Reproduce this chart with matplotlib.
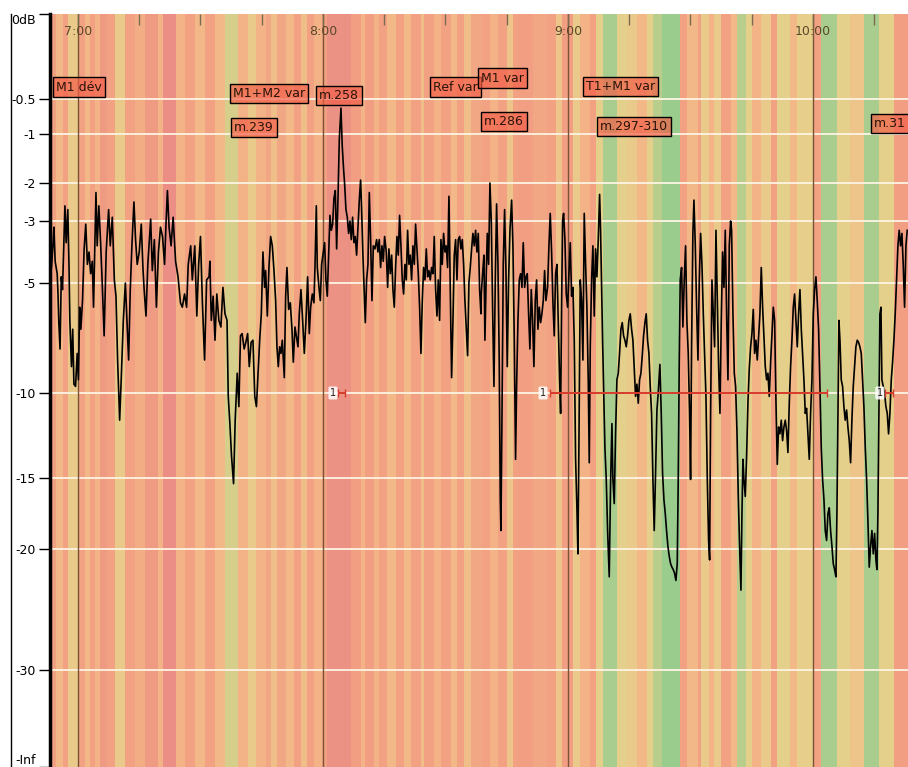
import numpy as np
import matplotlib
matplotlib.use('Agg')
import matplotlib.pyplot as plt
from matplotlib.colors import LinearSegmentedColormap
from matplotlib.transforms import blended_transform_factory
from matplotlib.lines import Line2D

# ---- level curve, minutes since midnight / dB ----
t_a = [412.9, 413.5, 413.9, 414.1, 414.4, 414.9, 415.1, 415.3, 415.6, 415.9,
       416.2, 416.5, 416.8, 417.1, 417.5, 417.8, 418.0, 418.4, 418.7, 419.0,
       419.4, 419.8, 420.1, 420.4, 420.7, 421.1, 421.5, 421.9, 422.3, 422.7,
       423.1, 423.5, 423.8, 424.2, 424.4, 424.7, 425.1, 425.5, 425.9, 426.4,
       426.9, 427.5, 427.9, 428.4, 428.9, 429.3, 429.7, 430.2, 430.6, 431.1,
       431.6, 432.0, 432.4, 432.8, 433.2, 433.7, 434.1, 434.5, 435.0, 435.5,
       435.9, 436.2, 436.65, 437.1, 437.8, 438.2, 438.7, 439.2, 439.7, 440.2,
       440.7, 441.2, 441.55, 441.9, 442.3, 442.8, 443.3, 443.9, 444.5, 445.1,
       445.55, 446.1, 446.6, 447.0, 447.6, 448.0, 448.6, 449.1, 449.55, 450.0,
       450.45, 450.8, 451.0, 451.5, 452.1, 452.3, 452.65, 453.1, 453.55, 454.0,
       454.5, 455.0, 455.5, 456.0, 456.5, 456.8, 457.2, 457.6, 458.1, 458.5,
       459.0, 459.4, 459.8, 460.2, 460.7, 461.1, 461.55, 461.95, 462.4, 462.85,
       463.3, 463.7, 464.1, 464.5, 464.9, 465.3, 465.7]
db_a = [-5.0, -4.5, -3.7, -3.2, -4.3, -4.7, -5.5, -6.8, -8.0, -4.8,
        -5.3, -3.8, -2.6, -3.7, -2.7, -4.5, -6.7, -8.8, -7.1, -9.6,
        -9.7, -8.2, -9.4, -6.1, -7.1, -5.8, -3.9, -3.1, -4.4, -4.0,
        -4.7, -4.3, -6.1, -3.2, -2.25, -3.8, -2.6, -3.6, -4.9, -7.4,
        -4.0, -2.7, -3.8, -2.9, -4.9, -5.6, -8.5, -11.6, -9.3, -6.7,
        -5.0, -6.7, -8.5, -5.3, -3.8, -2.5, -3.6, -4.4, -4.0, -3.1,
        -4.5, -5.3, -6.5, -4.4, -2.95, -4.6, -3.6, -6.1, -4.0, -3.2,
        -3.5, -4.4, -3.1, -2.2, -3.2, -3.8, -2.9, -4.3, -4.8, -5.9,
        -6.1, -5.5, -6.1, -4.4, -3.8, -4.9, -3.8, -6.5, -4.4, -3.5,
        -5.8, -7.6, -8.5, -4.9, -4.8, -4.3, -6.7, -5.6, -7.6, -5.5,
        -6.7, -7.0, -5.2, -6.4, -6.7, -10.2, -11.8, -13.7, -15.4, -11.6,
        -9.1, -10.8, -7.4, -7.3, -8.0, -7.7, -7.3, -8.8, -7.7, -7.6,
        -10.2, -10.8, -9.1, -7.6, -6.4, -4.0, -5.2]

t_b = [465.96, 466.37, 466.77, 467.18, 467.59, 468.0, 468.41, 468.73, 469.06, 469.39,
       469.71, 470.04, 470.53, 470.86, 471.18, 471.59, 472.0, 472.41, 472.73, 473.14,
       473.47, 473.88, 474.2, 474.61, 475.02, 475.43, 475.84, 476.24, 476.65, 476.98,
       477.39, 477.79, 478.04, 478.37, 478.61, 479.02, 479.35, 479.67, 480.08, 480.41,
       480.73, 481.06, 481.39, 481.71, 482.04, 482.37, 482.69, 483.02, 483.35, 483.67,
       484.0, 484.41, 484.73, 485.06, 485.31, 485.63, 485.96, 486.28, 486.61, 486.94,
       487.26, 487.59, 487.92, 488.24, 488.57, 488.9, 489.22, 489.47, 489.79, 490.12,
       490.37, 490.69, 491.02, 491.35, 491.67, 492.0, 492.33, 492.73, 493.14, 493.47,
       493.79, 494.12, 494.45, 494.77, 495.1, 495.51, 495.84, 496.16, 496.49, 496.82,
       497.14, 497.47, 497.79, 498.12, 498.45, 498.77, 499.1, 499.43, 499.75, 500.08,
       500.41, 500.73, 501.06, 501.39, 501.71, 502.04, 502.37, 502.69, 503.02, 503.35,
       503.67, 504.0, 504.33, 504.65, 504.98, 505.31, 505.63, 505.96, 506.28, 506.61,
       506.94, 507.26, 507.59, 507.92, 508.24, 508.57, 508.9, 509.22, 509.55, 509.88,
       510.2, 510.53, 510.86, 511.18, 511.51, 511.84, 512.16, 512.49, 512.82, 513.14,
       513.47, 513.79, 514.12, 514.45, 514.77, 515.1, 515.43, 515.75, 516.08, 516.41,
       516.73, 517.06, 517.39, 517.71, 518.04, 518.37, 518.69]
db_b = [-4.6, -6.5, -4.5, -3.5, -3.8, -4.6, -5.8, -7.9, -8.8, -7.9,
        -8.2, -7.6, -9.3, -5.6, -4.5, -6.2, -5.9, -7.1, -8.6, -7.0,
        -7.4, -7.9, -6.4, -5.3, -6.7, -8.2, -6.7, -4.8, -7.3, -6.1,
        -5.5, -5.9, -4.5, -2.6, -4.5, -5.2, -5.8, -4.4, -4.0, -3.7,
        -4.9, -5.6, -4.1, -2.85, -3.3, -3.1, -2.4, -2.2, -3.9, -2.45,
        -1.12, -0.63, -1.26, -1.73, -2.03, -2.7, -2.9, -3.4, -3.0, -3.6,
        -2.9, -3.7, -3.5, -4.1, -3.2, -2.45, -1.94, -2.7, -4.1, -5.5,
        -6.8, -4.9, -4.4, -2.25, -3.6, -5.8, -3.8, -3.9, -3.6, -4.0,
        -3.6, -4.5, -3.8, -4.3, -3.5, -4.0, -5.2, -3.9, -4.7, -4.1,
        -5.3, -6.1, -4.5, -3.5, -4.1, -2.85, -3.8, -4.9, -5.5, -4.4,
        -4.9, -3.3, -4.4, -4.1, -4.9, -3.8, -4.4, -3.1, -3.9, -4.7,
        -6.1, -8.2, -5.8, -4.5, -4.9, -3.9, -4.8, -4.6, -4.9, -4.5,
        -4.7, -3.5, -5.3, -6.5, -4.9, -6.7, -3.6, -4.4, -3.4, -4.0,
        -3.8, -4.5, -2.35, -5.3, -9.3, -6.7, -4.1, -3.6, -4.9, -3.6,
        -3.5, -3.9, -3.6, -4.4, -5.8, -7.1, -8.3, -5.0, -4.5, -3.9,
        -3.4, -3.8, -3.3, -4.0, -3.4, -5.3, -6.4]

t_c = [518.78, 519.1, 519.43, 519.67, 520.0, 520.25, 520.57, 520.9, 521.23, 521.55,
       521.88, 522.21, 522.53, 522.86, 523.18, 523.43, 523.59, 523.84, 524.16, 524.49,
       524.82, 525.14, 525.47, 525.8, 526.21, 526.53, 526.86, 527.18, 527.43, 527.76,
       528.08, 528.41, 528.74, 529.06, 529.39, 529.72, 530.04, 530.37, 530.69, 531.02,
       531.35, 531.67, 532.0, 532.33, 532.65, 532.98, 533.31, 533.63, 533.96, 534.29,
       534.61, 535.02, 535.35, 535.67, 536.0, 536.33, 536.65, 536.98, 537.31, 537.63,
       537.96, 538.21, 538.45, 538.69, 538.94, 539.27, 539.59, 539.92, 540.25, 540.57,
       540.9, 541.23, 541.55, 541.88, 542.21, 542.45, 542.69, 543.02, 543.35, 543.67,
       544.0, 544.33, 544.65, 544.98, 545.23, 545.47, 545.8, 546.12, 546.45, 546.78,
       547.1, 547.43, 547.76, 548.0, 548.25, 548.49, 548.74, 549.06, 549.39, 549.72,
       550.12, 550.45, 550.78, 551.02, 551.35, 551.67, 552.0, 552.33, 552.65, 552.98,
       553.31, 553.63, 553.96, 554.29, 554.61, 554.94, 555.27, 555.59, 555.92, 556.25,
       556.57, 556.9, 557.23, 557.55, 557.88, 558.21, 558.53, 558.86, 559.18, 559.51,
       559.84, 560.16, 560.49, 560.82, 561.14, 561.47, 561.8, 562.12, 562.53, 562.86,
       563.18, 563.51, 563.84, 564.16, 564.49, 564.82, 565.14, 565.47, 565.8, 566.12,
       566.45, 566.78, 567.02, 567.27, 567.51, 567.84, 568.16, 568.49, 568.82, 569.14,
       569.47, 569.8, 570.04, 570.29, 570.61]
db_c = [-5.5, -4.7, -4.1, -7.6, -4.7, -3.4, -4.4, -2.0, -3.0, -6.1,
        -9.7, -4.9, -2.55, -4.4, -8.6, -16.5, -18.7, -11.6, -4.4, -2.7,
        -4.6, -8.8, -4.9, -3.3, -2.45, -3.8, -7.6, -13.9, -9.7, -6.7,
        -4.9, -4.7, -5.2, -3.7, -5.2, -4.8, -4.7, -6.4, -8.0, -5.3,
        -6.7, -8.8, -5.8, -4.9, -7.1, -6.1, -6.8, -6.4, -5.8, -4.6,
        -5.8, -5.2, -3.8, -2.8, -4.0, -5.9, -7.4, -4.7, -4.4, -6.8,
        -9.4, -11.2, -6.1, -3.0, -2.8, -3.6, -5.5, -6.1, -4.7, -3.7,
        -5.6, -5.2, -7.6, -13.9, -17.2, -20.4, -13.2, -4.9, -5.8, -8.5,
        -2.8, -4.4, -6.1, -9.4, -14.1, -7.9, -4.9, -3.8, -6.5, -3.9,
        -4.8, -3.6, -2.3, -3.3, -5.3, -7.6, -9.7, -13.2, -15.1, -18.7,
        -22.3, -15.4, -11.8, -15.1, -16.8, -12.4, -9.4, -9.1, -8.2, -7.1,
        -6.8, -7.4, -7.6, -7.9, -7.4, -6.7, -6.4, -7.1, -7.6, -8.9,
        -10.2, -9.6, -10.6, -9.4, -9.1, -8.3, -7.4, -6.8, -6.4, -7.6,
        -8.2, -9.7, -11.2, -15.1, -18.7, -14.7, -11.0, -10.0, -8.7, -11.2,
        -14.7, -16.5, -17.5, -18.7, -19.8, -20.6, -21.2, -21.5, -21.7, -22.0,
        -22.6, -21.2, -15.1, -8.6, -4.9, -4.5, -7.0, -4.9, -3.8, -6.7,
        -8.2, -11.2, -15.1, -7.9, -3.4]

t_d = [570.87, 571.2, 571.52, 571.85, 572.18, 572.5, 572.83, 573.16, 573.48, 573.81,
       574.14, 574.46, 574.71, 574.95, 575.28, 575.6, 575.93, 576.26, 576.58, 576.91,
       577.24, 577.56, 577.89, 578.22, 578.54, 578.87, 579.2, 579.52, 579.85, 580.09,
       580.42, 580.75, 581.07, 581.4, 581.73, 582.05, 582.38, 582.63, 582.87, 583.11,
       583.44, 583.77, 584.09, 584.42, 584.75, 585.07, 585.4, 585.73, 586.05, 586.38,
       586.71, 587.03, 587.36, 587.69, 588.01, 588.34, 588.67, 588.99, 589.32, 589.65,
       589.97, 590.3, 590.63, 590.95, 591.28, 591.6, 591.93, 592.26, 592.58, 592.91,
       593.24, 593.56, 593.89, 594.22, 594.54, 594.87, 595.2, 595.52, 595.85, 596.18,
       596.5, 596.83, 597.16, 597.48, 597.81, 598.14, 598.46, 598.79, 599.12, 599.44,
       599.77, 600.1, 600.42, 600.75, 601.07, 601.4, 601.73, 602.05, 602.38, 602.71,
       603.03, 603.36, 603.69, 604.01, 604.34, 604.67, 604.99, 605.32, 605.65, 605.89,
       606.14, 606.38, 606.63, 606.95, 607.28, 607.6, 607.93, 608.26, 608.58, 608.91,
       609.24, 609.56, 609.89, 610.22, 610.54, 610.87, 611.2, 611.52, 611.85, 612.18,
       612.5, 612.83, 613.16, 613.48, 613.81, 614.14, 614.46, 614.79, 615.12, 615.44,
       615.69, 615.93, 616.18, 616.42, 616.67, 616.91, 617.24, 617.56, 617.89, 618.22,
       618.54, 618.87, 619.2, 619.52, 619.85, 620.17, 620.5, 620.83, 621.15, 621.48,
       621.81, 622.13, 622.46, 622.79, 623.11]
db_d = [-2.45, -3.8, -6.1, -8.5, -4.9, -3.4, -4.4, -6.4, -8.2, -10.2,
        -15.1, -19.4, -20.9, -11.2, -4.9, -6.4, -7.9, -3.3, -5.6, -8.8,
        -11.2, -6.7, -4.0, -5.2, -3.3, -6.4, -9.4, -3.8, -3.0, -3.3,
        -6.4, -9.1, -9.7, -12.2, -16.3, -19.8, -23.4, -17.5, -13.9, -15.1,
        -16.3, -13.7, -10.6, -8.9, -7.9, -7.3, -6.2, -8.2, -7.6, -8.5,
        -7.4, -6.4, -4.5, -6.1, -7.4, -8.8, -9.4, -9.1, -10.2, -8.6,
        -7.4, -6.1, -6.7, -10.4, -14.2, -12.0, -12.4, -11.6, -12.8, -12.0,
        -11.6, -12.2, -13.5, -10.6, -8.8, -7.6, -6.1, -5.5, -6.7, -7.9,
        -6.4, -5.3, -7.1, -8.2, -9.4, -11.2, -10.9, -12.4, -13.9, -11.2,
        -9.4, -6.4, -5.3, -4.8, -5.8, -7.1, -9.7, -13.2, -15.1, -16.5,
        -18.7, -19.4, -17.5, -17.1, -18.7, -19.8, -21.2, -21.7, -22.3, -17.5,
        -11.2, -6.7, -7.6, -9.4, -9.7, -10.8, -11.6, -11.0, -12.0, -12.8,
        -14.1, -11.6, -9.7, -8.8, -7.9, -7.6, -7.7, -7.9, -8.2, -9.4,
        -10.8, -13.2, -15.1, -18.0, -21.5, -19.8, -18.7, -20.4, -18.9, -20.9,
        -21.7, -17.5, -11.2, -6.4, -6.1, -9.4, -9.7, -10.0, -10.8, -11.2,
        -12.4, -11.2, -9.4, -8.6, -7.6, -6.4, -4.9, -3.8, -3.3, -3.8,
        -3.4, -4.4, -6.1, -3.8, -3.3]

# ---- background colour bands (0 = red, 0.5 = orange, 0.7 = yellow, 1 = green) ----
band_edges = [413.1, 414.7, 416.3, 417.5, 420.0, 421.6, 422.9, 424.1, 425.3, 427.0,
              429.0, 431.4, 433.9, 436.3, 439.6, 440.8, 444.1, 446.1, 448.6, 451.0,
              453.5, 455.9, 459.2, 461.6, 463.7, 466.0,
              467.2, 468.8, 470.9, 472.9, 474.5, 476.2, 477.8, 479.8, 481.1, 486.8,
              489.2, 490.4, 492.5, 493.7, 495.8, 497.8, 499.8, 501.5, 503.9, 504.7,
              507.2, 508.8, 511.3, 512.9, 514.5, 516.2, 518.9,
              520.9, 522.9, 525.0, 526.6, 527.8, 531.5, 534.8, 537.2, 538.5, 541.3,
              542.9, 545.4, 547.0, 548.7, 551.9, 554.4, 556.8, 559.3, 560.9, 563.0,
              567.4, 569.1, 571.8,
              572.5, 574.5, 575.8, 577.4, 579.9, 581.5, 583.5, 585.2, 587.2, 589.7,
              591.3, 594.5, 596.2, 600.3, 601.9, 606.0, 609.2, 612.5, 616.2, 619.9,
              623.4]
band_levels = [0.3, 0.5, 0.3, 0.65, 0.3, 0.5, 0.3, 0.45, 0.2, 0.3,
               0.65, 0.3, 0.4, 0.2, 0.45, 0.05, 0.45, 0.3, 0.5, 0.3,
               0.5, 0.75, 0.45, 0.65, 0.45,
               0.35, 0.55, 0.35, 0.5, 0.3, 0.55, 0.3, 0.45, 0.3, 0.08,
               0.25, 0.45, 0.25, 0.45, 0.3, 0.5, 0.3, 0.5, 0.3, 0.55,
               0.3, 0.45, 0.3, 0.5, 0.3, 0.55, 0.35,
               0.3, 0.45, 0.3, 0.6, 0.3, 0.25, 0.35, 0.3, 0.6, 0.25,
               0.65, 0.45, 0.3, 0.7, 0.9, 0.7, 0.65, 0.5, 0.7, 0.85,
               0.95, 0.3, 0.5,
               0.3, 0.65, 0.45, 0.65, 0.3, 0.5, 0.85, 0.7, 0.45, 0.65,
               0.3, 0.7, 0.5, 0.68, 0.3, 0.9, 0.7, 0.6, 0.9, 0.7,
               0.25]

# ---- axis definitions ----
hour_ticks = [420, 480, 540, 600]
hour_labels = ['7:00', '8:00', '9:00', '10:00']
quarter_ticks = [435, 450, 465, 495, 510, 525, 555, 570, 585, 615]
db_ticks = [0, -0.5, -1, -2, -3, -5, -10, -15, -20, -30, -100]
db_labels = ['0dB', '-0.5', '-1', '-2', '-3', '-5', '-10', '-15', '-20', '-30', '-Inf']

# annotations: text, minute of left edge, vertical place (fraction of axes)
note_text = ['M1 dév', 'M1+M2 var', 'm.239', 'm.258', 'Ref var', 'M1 var',
             'm.286', 'T1+M1 var', 'm.297-310', 'm.31']
note_time = [414.6, 458.0, 458.2, 479.0, 506.9, 518.7, 519.4, 544.4, 547.8, 615.0]
note_y = [0.903, 0.894, 0.849, 0.892, 0.903, 0.915, 0.857, 0.904, 0.851, 0.855]

# repeat markers "1" with their ranges at -10 dB
rep_time = [482.45, 533.9, 616.4]
rep_start = [483.7, 535.6, 617.6]
rep_end = [485.4, 603.4, 619.6]

# ---- scale of the level meter (position of each tick, pixels from bottom) ----
scale_db = [-100, -30, -20, -15, -10, -5, -3, -2, -1, -0.5, 0]
scale_pos = [0, 97, 218, 289, 374, 484, 546, 584, 633, 668, 753]


def fwd(v):
    return np.interp(v, scale_db, scale_pos)


def inv(p):
    return np.interp(p, scale_pos, scale_db)


cmap = LinearSegmentedColormap.from_list(
    'meter', [(0.0, '#ea8c86'), (0.3, '#f2a283'), (0.5, '#f3b888'),
              (0.7, '#e6d08b'), (1.0, '#8ccb8f')])

fig = plt.figure(figsize=(9.08, 7.67), dpi=100)
ax = fig.add_axes([50 / 908, 0, 858 / 908, 753 / 767])
ax.set_yscale('function', functions=(fwd, inv))

ax.pcolormesh(band_edges, [-100, 0], np.array([band_levels]), cmap=cmap,
              vmin=0, vmax=1, shading='flat', edgecolors='none',
              antialiased=False, zorder=0)

for v in db_ticks[1:-1]:
    ax.axhline(v, color='#fdf4e4', lw=1.3, zorder=1)
for h in hour_ticks:
    ax.axvline(h, color='#7a5436', lw=1, zorder=1)

t_all = t_a + t_b + t_c + t_d
db_all = db_a + db_b + db_c + db_d
ax.plot(t_all, db_all, color='black', lw=1.2, zorder=3)

# repeat brackets
for t0, t1 in zip(rep_start, rep_end):
    ax.errorbar((t0 + t1) / 2, -10, xerr=(t1 - t0) / 2, fmt='none',
                ecolor='#d63a2a', elinewidth=1.4, capsize=3, zorder=4)
for t in rep_time:
    ax.text(t, -10, '1', fontsize=7, ha='center', va='center', color='#222222',
            bbox=dict(boxstyle='round,pad=0.15', fc='white', ec='none', alpha=0.85),
            zorder=5)

# red labels
trans = blended_transform_factory(ax.transData, ax.transAxes)
for txt, t, y in zip(note_text, note_time, note_y):
    ax.text(t, y, txt, transform=trans, fontsize=9, color='#2a1408',
            ha='left', va='center', zorder=6,
            bbox=dict(boxstyle='square,pad=0.25', fc=(0.95, 0.36, 0.28, 0.68),
                      ec='black', lw=1))

ax.set_xlim(413.14, 623.3)
ax.set_ylim(-100, 0)

ax.xaxis.tick_top()
ax.set_xticks(hour_ticks)
ax.set_xticklabels(hour_labels)
ax.set_xticks(quarter_ticks, minor=True)
ax.tick_params(axis='x', which='both', direction='in', length=8, width=1,
               color='#7a6a50', labelcolor='#5a4a2a', labelsize=9, pad=-17)

ax.set_yticks(db_ticks)
ax.set_yticklabels(db_labels)
ax.tick_params(axis='y', direction='out', length=8, width=1, labelsize=9,
               pad=2, colors='black')
for lab in ax.get_yticklabels():
    if lab.get_text() == '0dB':
        lab.set_va('top')
    elif lab.get_text() == '-Inf':
        lab.set_va('bottom')

for side in ['top', 'right', 'bottom']:
    ax.spines[side].set_visible(False)
ax.spines['left'].set_linewidth(2.5)

fig.add_artist(Line2D([10.5 / 908, 10.5 / 908], [0, 753 / 767], color='black',
                      lw=1, transform=fig.transFigure))

fig.savefig('out.png', dpi=100)
